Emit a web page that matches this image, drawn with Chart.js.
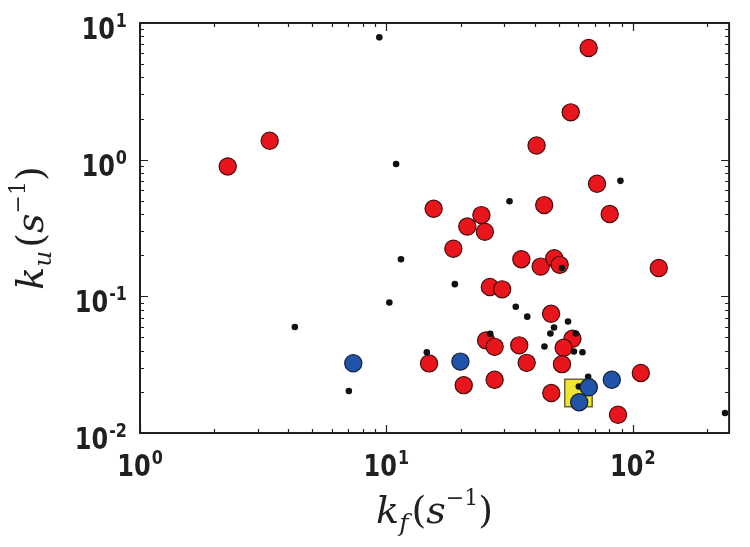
<!DOCTYPE html>
<html>
<head>
<meta charset="utf-8">
<script src="https://cdn.jsdelivr.net/npm/chart.js@4/dist/chart.umd.min.js"></script>
<style>
  html, body { margin: 0; padding: 0; background: #fff; }
</style>
</head>
<body>
<canvas id="rateChart" width="750" height="547"></canvas>
<script>
// folding rate kf vs unfolding rate ku, both in s^-1
const redKf = [2.27, 3.36, 66.2, 56.0, 40.7, 71.6, 80.6, 43.7, 15.55, 24.3, 21.3, 25.1, 18.7, 35.3, 42.3, 48.0, 50.5,
  127.5, 26.3, 29.5, 46.6, 56.9, 25.4, 27.5, 34.6, 52.4, 14.9, 37.1, 51.6, 20.6, 27.5, 46.7, 107.8, 87.1];
const redKu = [0.892, 1.375, 6.56, 2.22, 1.27, 0.666, 0.400, 0.465, 0.437, 0.393, 0.324, 0.297, 0.223, 0.187, 0.165, 0.190, 0.170,
  0.161, 0.117, 0.1125, 0.0745, 0.0489, 0.0476, 0.0427, 0.0438, 0.0420, 0.0323, 0.0326, 0.0319, 0.0224, 0.0245, 0.0196, 0.0275, 0.0136];

const blueKf = [7.34, 19.97, 82.2, 66.3, 60.6];
const blueKu = [0.0324, 0.0333, 0.0245, 0.0216, 0.0168];

const blackKf = [9.36, 10.95, 89.1, 31.6, 11.46, 18.96, 10.28, 4.25, 7.04, 33.5, 37.3, 54.6, 47.9, 46.3, 58.7, 26.4,
  43.8, 57.7, 62.5, 14.59, 51.6, 65.9, 60.4, 236.8];
const blackKu = [7.85, 0.929, 0.70, 0.496, 0.187, 0.1228, 0.0901, 0.0596, 0.0203, 0.0838, 0.0710, 0.0654, 0.0591, 0.0534, 0.0534, 0.0531,
  0.0430, 0.0395, 0.0390, 0.0390, 0.161, 0.0258, 0.0219, 0.0140];

const yellowKf = [60.2];
const yellowKu = [0.0196];

const xTicks = [1, 10, 100];
const xTickLabels = ["10^0", "10^1", "10^2"];
const yTicks = [0.01, 0.1, 1, 10];
const yTickLabels = ["10^-2", "10^-1", "10^0", "10^1"];

const xMin = 1, xMax = 246;
const yMin = 0.01, yMax = 10;

const toPoints = (xs, ys) => xs.map((x, i) => ({ x: x, y: ys[i] }));

const ink = "#231f20";
const sansFont = '"DejaVu Sans", sans-serif';
const serifFont = '"DejaVu Serif", serif';

// minor log ticks between the given bounds
function logTicks(min, max) {
  const out = [];
  for (let e = Math.floor(Math.log10(min)); e <= Math.ceil(Math.log10(max)); e++) {
    for (let m = 1; m < 10; m++) {
      const v = m * Math.pow(10, e);
      if (v >= min && v <= max) out.push({ v: v, major: m === 1 });
    }
  }
  return out;
}

// "10^-1" -> big base + small raised exponent, squeezed a bit like the original
function drawPowerLabel(ctx, label, x, y, align) {
  const [b, e] = label.split("^");
  const sx = 0.8;
  ctx.font = "bold 30px " + sansFont;
  const wb = ctx.measureText(b).width * sx;
  ctx.font = "bold 20px " + sansFont;
  const we = ctx.measureText(e).width * sx;
  const total = wb + 1 + we;
  const left = align === "center" ? x - total / 2 : x - total;
  ctx.save();
  ctx.fillStyle = ink;
  ctx.textAlign = "left";
  ctx.textBaseline = "alphabetic";
  ctx.translate(left, y);
  ctx.scale(sx, 1);
  ctx.font = "bold 30px " + sansFont;
  ctx.fillText(b, 0, 0);
  ctx.font = "bold 20px " + sansFont;
  ctx.fillText(e, (wb + 1) / sx, -12);
  ctx.restore();
}

function drawMath(ctx, parts, cx, baseline) {
  let total = 0;
  parts.forEach(p => {
    ctx.font = p.font;
    p.w = ctx.measureText(p.t).width;
    total += p.w + (p.gap || 0);
  });
  let x = cx - total / 2;
  ctx.textAlign = "left";
  ctx.textBaseline = "alphabetic";
  parts.forEach(p => {
    ctx.font = p.font;
    ctx.fillText(p.t, x, baseline + (p.dy || 0));
    x += p.w + (p.gap || 0);
  });
}

function titleParts(sub) {
  return [
    { t: "k", font: "italic 38px " + serifFont },
    { t: sub, font: "italic 25px " + serifFont, dy: 8, gap: 3 },
    { t: "(", font: "38px " + serifFont },
    { t: "s", font: "italic 38px " + serifFont },
    { t: "\u22121", font: "22px " + serifFont, dy: -18 },
    { t: ")", font: "38px " + serifFont },
  ];
}

const framePlugin = {
  id: "frame",
  afterDraw(chart) {
    const { ctx, chartArea: a, scales } = chart;
    const xs = scales.x, ys = scales.y;
    ctx.save();

    // inward ticks on all four sides
    ctx.strokeStyle = ink;
    ctx.lineWidth = 1.2;
    ctx.beginPath();
    logTicks(xMin, xMax).forEach(t => {
      const px = Math.round(xs.getPixelForValue(t.v)) + 0.5;
      const len = t.major ? 8 : 4;
      ctx.moveTo(px, a.bottom); ctx.lineTo(px, a.bottom - len);
      ctx.moveTo(px, a.top); ctx.lineTo(px, a.top + len);
    });
    logTicks(yMin, yMax).forEach(t => {
      const py = Math.round(ys.getPixelForValue(t.v)) + 0.5;
      const len = t.major ? 8 : 4;
      ctx.moveTo(a.left, py); ctx.lineTo(a.left + len, py);
      ctx.moveTo(a.right, py); ctx.lineTo(a.right - len, py);
    });
    ctx.stroke();

    ctx.lineWidth = 2;
    ctx.strokeRect(a.left, a.top, a.right - a.left, a.bottom - a.top);

    // tick labels
    xTicks.forEach((v, i) => drawPowerLabel(ctx, xTickLabels[i], xs.getPixelForValue(v), a.bottom + 43, "center"));
    yTicks.forEach((v, i) => drawPowerLabel(ctx, yTickLabels[i], a.left - 13, ys.getPixelForValue(v) + 16, "right"));

    // axis titles
    ctx.fillStyle = ink;
    drawMath(ctx, titleParts("f"), (a.left + a.right) / 2, 523);
    ctx.translate(43, (a.top + a.bottom) / 2);
    ctx.rotate(-Math.PI / 2);
    drawMath(ctx, titleParts("u"), 0, 0);
    ctx.restore();
  },
};

const data = {
  datasets: [
    {
      label: "blue",
      data: toPoints(blueKf, blueKu),
      pointRadius: 8.6,
      pointBorderWidth: 1.2,
      backgroundColor: "rgb(33, 84, 168)",
      borderColor: "rgb(20, 30, 60)",
    },
    {
      label: "black",
      data: toPoints(blackKf, blackKu),
      pointRadius: 3.3,
      pointBorderWidth: 0,
      backgroundColor: "#111",
      borderColor: "#111",
    },
    {
      label: "red",
      data: toPoints(redKf, redKu),
      pointRadius: 8.6,
      pointBorderWidth: 1.2,
      backgroundColor: "rgb(232, 22, 28)",
      borderColor: "rgb(70, 12, 12)",
    },
    {
      label: "yellow",
      data: toPoints(yellowKf, yellowKu),
      pointStyle: "rect",
      pointRadius: 19.4,
      pointBorderWidth: 1.5,
      backgroundColor: "rgb(240, 230, 50)",
      borderColor: "rgb(105, 100, 60)",
    },
  ],
};

const config = {
  type: "scatter",
  data: data,
  options: {
    responsive: false,
    animation: false,
    layout: { padding: { top: 23, right: 5, left: 0, bottom: 0 } },
    scales: {
      x: {
        type: "logarithmic",
        min: xMin,
        max: xMax,
        grid: { display: false },
        border: { display: false },
        ticks: { display: false },
        afterFit: s => { s.height = 114; },
      },
      y: {
        type: "logarithmic",
        min: yMin,
        max: yMax,
        grid: { display: false },
        border: { display: false },
        ticks: { display: false },
        afterFit: s => { s.width = 140; },
      },
    },
    plugins: {
      legend: { display: false },
      tooltip: { enabled: false },
    },
  },
  plugins: [framePlugin],
};

new Chart(document.getElementById("rateChart"), config);
</script>
</body>
</html>
